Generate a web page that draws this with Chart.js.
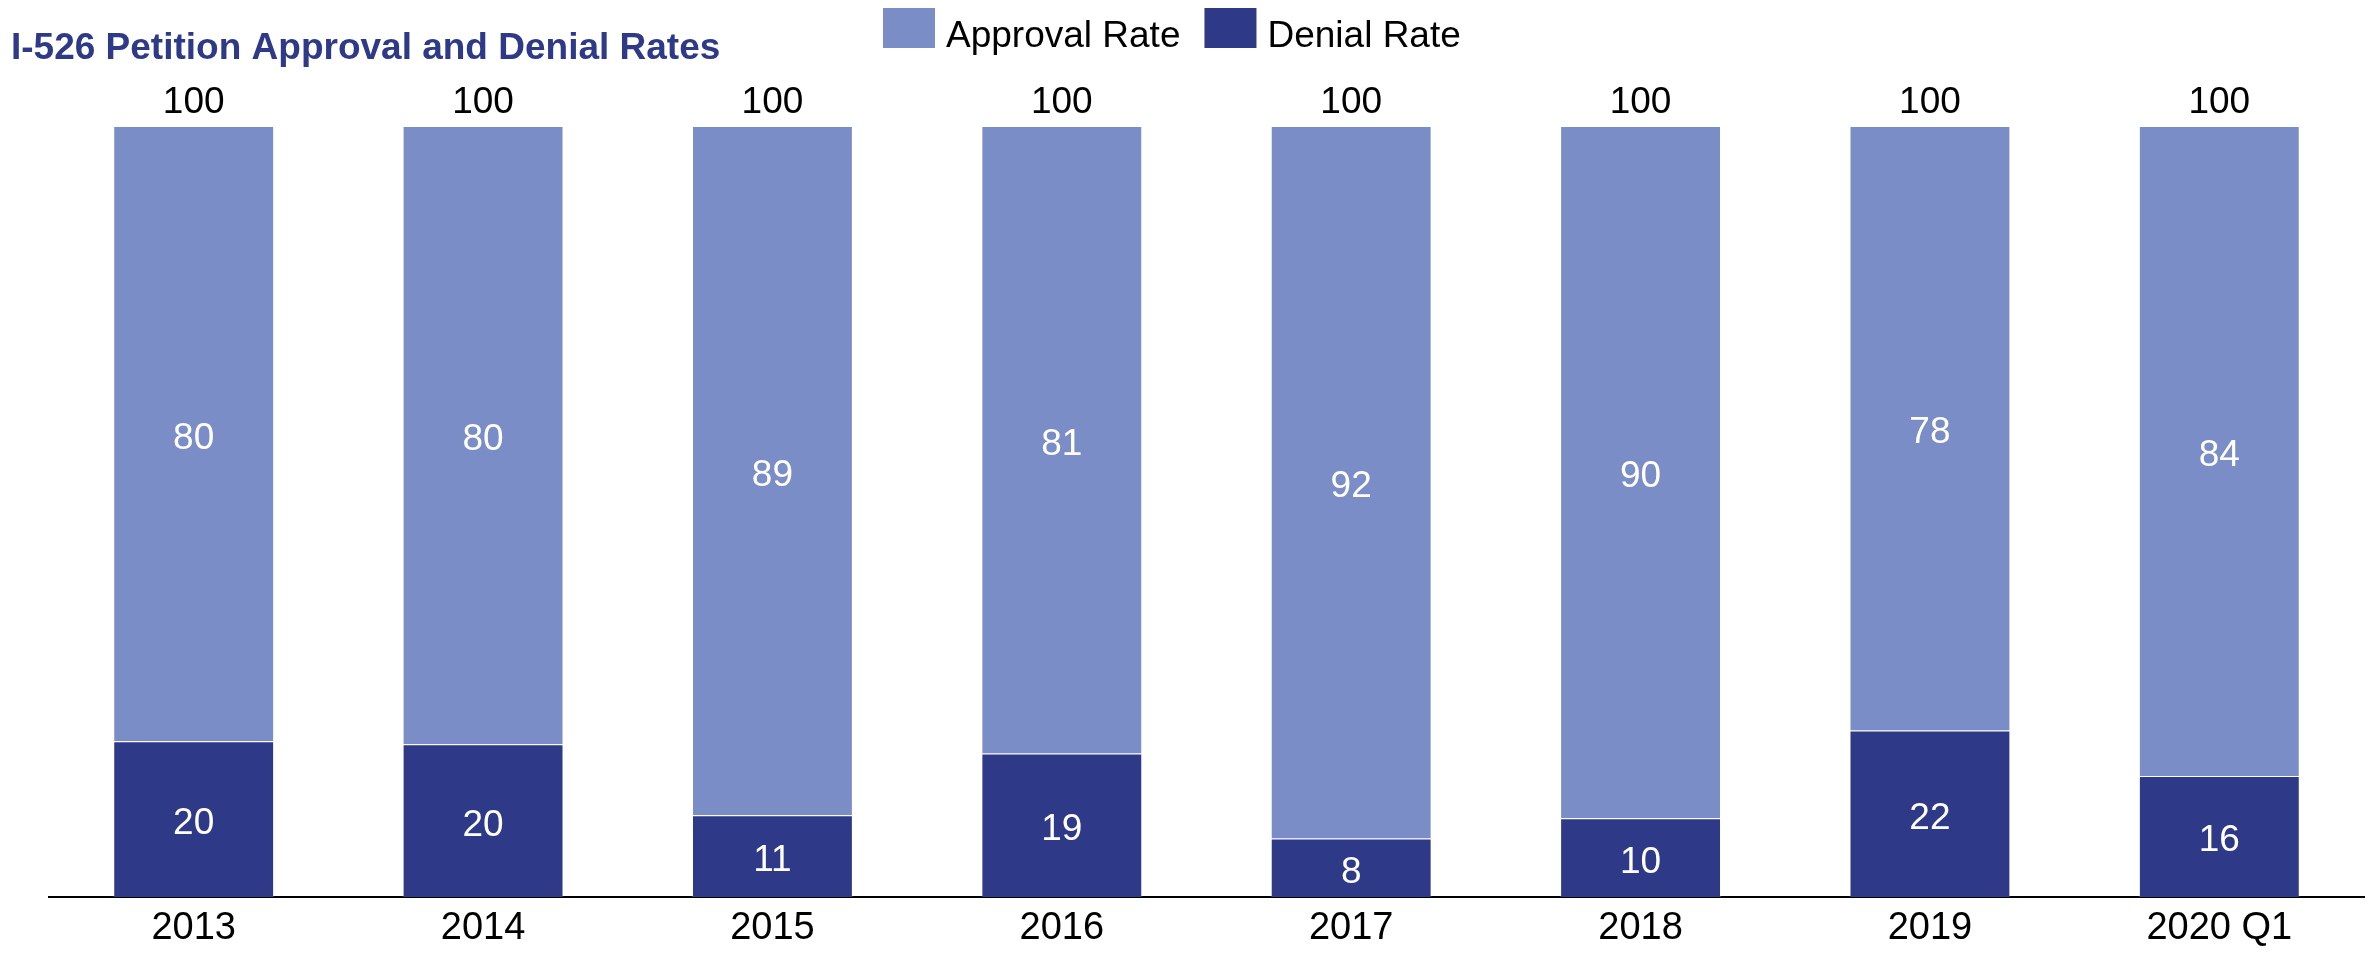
<!DOCTYPE html>
<html>
<head>
<meta charset="utf-8">
<title>I-526 Petition Approval and Denial Rates</title>
<script src="https://cdn.jsdelivr.net/npm/chart.js@4/dist/chart.umd.min.js"></script>
<style>
    html, body { margin: 0; padding: 0; background: #fff; }
    #chart { display: block; }
</style>
</head>
<body>
<canvas id="chart" width="2371" height="953"></canvas>
<script>
const categories = ['2013', '2014', '2015', '2016', '2017', '2018', '2019', '2020 Q1'];
const denialRate = [20.2, 19.8, 10.6, 18.6, 7.6, 10.2, 21.6, 15.7];
const approvalRate = [79.8, 80.2, 89.4, 81.4, 92.4, 89.8, 78.4, 84.3];

const titleText = 'I-526 Petition Approval and Denial Rates';
const FONT = "'Liberation Sans', Arial, sans-serif";
const APPROVAL_COLOR = '#7a8dc7';
const DENIAL_COLOR = '#2e3987';

// totals shown above each bar
const totals = categories.map((c, i) => Math.round(denialRate[i] + approvalRate[i]));

const labelPlugin = {
    id: 'barLabels',
    afterDatasetsDraw(chart) {
        const ctx = chart.ctx;
        ctx.save();
        ctx.font = '37px ' + FONT;
        ctx.textAlign = 'center';
        ctx.textBaseline = 'alphabetic';
        ctx.fillStyle = '#fff';
        chart.data.datasets.forEach((ds, di) => {
            chart.getDatasetMeta(di).data.forEach((bar, i) => {
                const mid = (bar.y + bar.base) / 2;
                ctx.fillText(String(Math.round(ds.data[i])), bar.x, mid + 15);
            });
        });
        // totals
        const top = chart.getDatasetMeta(chart.data.datasets.length - 1).data;
        ctx.fillStyle = '#000';
        top.forEach((bar, i) => {
            ctx.fillText(String(totals[i]), bar.x, bar.y - 13);
        });
        ctx.restore();
    },
    afterDraw(chart) {
        const ctx = chart.ctx;
        ctx.save();
        // title
        ctx.font = 'bold 37px ' + FONT;
        ctx.fillStyle = DENIAL_COLOR;
        ctx.textAlign = 'left';
        ctx.textBaseline = 'alphabetic';
        ctx.fillText(titleText, 11, 59);

        // legend (approval first, then denial)
        ctx.font = '37px ' + FONT;
        let x = 883;
        const order = [1, 0];
        order.forEach(di => {
            const ds = chart.data.datasets[di];
            ctx.fillStyle = ds.backgroundColor;
            ctx.fillRect(x, 8, 52, 40);
            ctx.fillStyle = '#000';
            ctx.fillText(ds.label, x + 63, 47);
            x += 63 + ctx.measureText(ds.label).width + 24;
        });
        ctx.restore();
    }
};

const config = {
    type: 'bar',
    data: {
        labels: categories,
        datasets: [{
            label: 'Denial Rate',
            data: denialRate,
            backgroundColor: DENIAL_COLOR,
            borderColor: 'rgba(255,255,255,0.25)',
            borderWidth: 1,
            categoryPercentage: 1.0,
            barPercentage: 0.556
        }, {
            label: 'Approval Rate',
            data: approvalRate,
            backgroundColor: APPROVAL_COLOR,
            borderColor: 'rgba(255,255,255,0.25)',
            borderWidth: 1,
            categoryPercentage: 1.0,
            barPercentage: 0.556
        }]
    },
    options: {
        responsive: false,
        animation: false,
        layout: {
            padding: { left: 49, right: 7, top: 126, bottom: 0 }
        },
        plugins: {
            legend: { display: false },
            title: { display: false },
            tooltip: { enabled: false }
        },
        scales: {
            x: {
                stacked: true,
                grid: { display: false, drawTicks: false },
                border: { display: true, color: '#000', width: 2 },
                ticks: {
                    color: '#000',
                    padding: 9,
                    maxRotation: 0,
                    font: { size: 38, family: FONT }
                },
                afterFit(scale) {
                    scale.height = 56;
                }
            },
            y: {
                stacked: true,
                display: false,
                min: 0,
                max: 100
            }
        }
    },
    plugins: [labelPlugin]
};

new Chart(document.getElementById('chart'), config);
</script>
</body>
</html>
